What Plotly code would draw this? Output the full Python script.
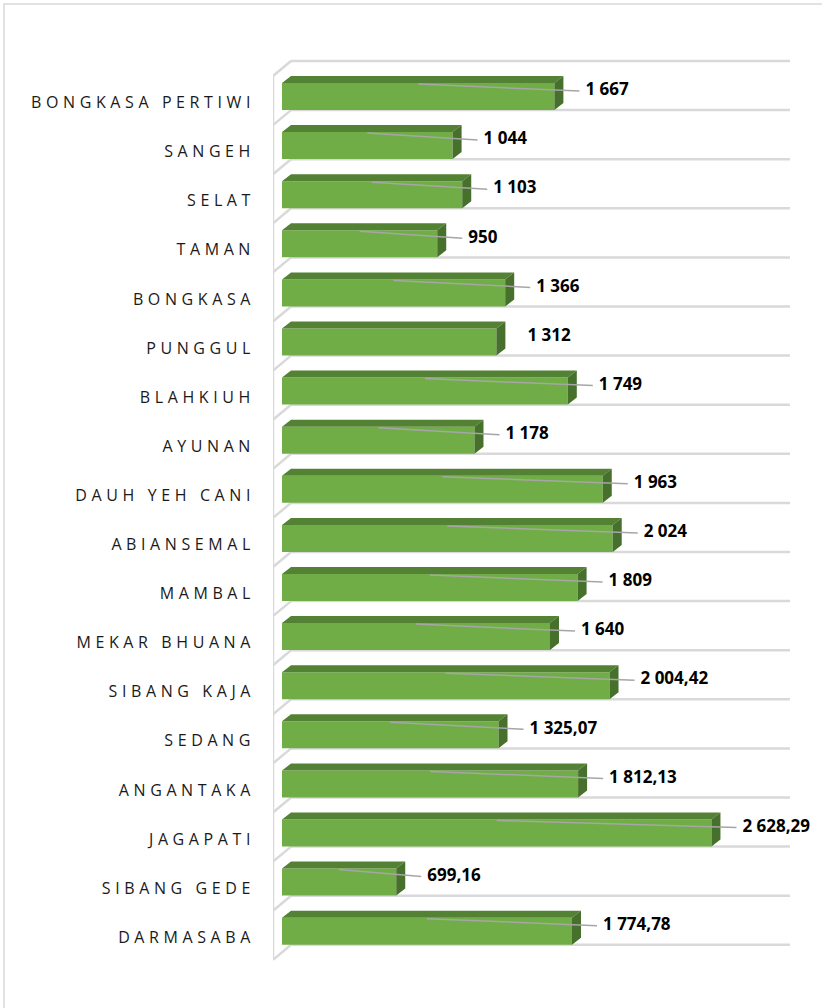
import plotly.graph_objects as go

villages = [
    "BONGKASA PERTIWI", "SANGEH", "SELAT", "TAMAN", "BONGKASA", "PUNGGUL",
    "BLAHKIUH", "AYUNAN", "DAUH YEH CANI", "ABIANSEMAL", "MAMBAL",
    "MEKAR BHUANA", "SIBANG KAJA", "SEDANG", "ANGANTAKA", "JAGAPATI",
    "SIBANG GEDE", "DARMASABA",
]
values = [
    1667, 1044, 1103, 950, 1366, 1312, 1749, 1178, 1963, 2024, 1809, 1640,
    2004.42, 1325.07, 1812.13, 2628.29, 699.16, 1774.78,
]

# ---- page geometry (pixels) ----
W, H = 822, 1008
ML, MR, MT, MB = 273, 30, 55, 43
X0 = 282            # pixel of value 0 on the front plane
PX_PER_UNIT = 0.1634
ROW = 49.1          # pixel height of one category row
ROW_TOP = 61        # pixel of first back gridline

FRONT = "#70ad47"
TOP = "#548235"
SIDE = "#46702b"
GRID = "#d9d9d9"


def xd(px):
    """pixel offset from value-0 -> data units"""
    return px / PX_PER_UNIT


def yd(px):
    """pixel -> category units"""
    return (px - ROW_TOP) / ROW


def fmt(v):
    s = f"{v:,.2f}".replace(",", " ").replace(".", ",")
    return s[:-3] if s.endswith(",00") else s


n = len(values)
DX = xd(9)
DY = 7 / ROW
face_top = 22 / ROW
face_bot = 49 / ROW

fig = go.Figure()

# front faces
fig.add_trace(go.Bar(
    x=values, y=[i + (face_top + face_bot) / 2 for i in range(n)],
    base=0, width=face_bot - face_top, orientation="h",
    marker=dict(color=FRONT, line=dict(width=0)),
    hoverinfo="skip", showlegend=False,
))

# top and side faces (3d look)
tx, ty, sx, sy = [], [], [], []
for i, v in enumerate(values):
    yt, yb = i + face_top, i + face_bot
    tx += [0, v, v + DX, DX, 0, None]
    ty += [yt, yt, yt - DY, yt - DY, yt, None]
    sx += [v, v + DX, v + DX, v, v, None]
    sy += [yt, yt - DY, yb - DY, yb, yt, None]
fig.add_trace(go.Scatter(x=tx, y=ty, fill="toself", fillcolor=TOP, mode="none",
                         hoverinfo="skip", showlegend=False))
fig.add_trace(go.Scatter(x=sx, y=sy, fill="toself", fillcolor=SIDE, mode="none",
                         hoverinfo="skip", showlegend=False))

# leader lines + value labels
LBL_DX = xd(31)
LBL_DY = 30 / ROW
lx, ly = [], []
for i, v in enumerate(values):
    if villages[i] == "PUNGGUL":
        continue
    lx += [v / 2, v + LBL_DX - xd(6), None]
    ly += [i + face_top + 1 / ROW, i + LBL_DY, None]
fig.add_trace(go.Scatter(x=lx, y=ly, mode="lines", line=dict(color="#a6a6a6", width=1.5),
                         hoverinfo="skip", showlegend=False))
fig.add_trace(go.Scatter(
    x=[v + LBL_DX for v in values], y=[i + LBL_DY for i in range(n)],
    mode="text", text=[fmt(v) for v in values], textposition="middle right",
    textfont=dict(family="Open Sans", size=17, color="#000000", weight="bold"),
    cliponaxis=False, hoverinfo="skip", showlegend=False,
))

# back-wall gridlines and left side wall
shapes = []
for k in range(n + 1):
    shapes.append(dict(type="line", xref="x", yref="y", x0=xd(9), x1=xd(790 - X0), y0=k, y1=k,
                       line=dict(color=GRID, width=2.5), layer="below"))
    shapes.append(dict(type="line", xref="x", yref="y", x0=xd(-9), x1=xd(9),
                       y0=k + 15 / ROW, y1=k, line=dict(color=GRID, width=2.5), layer="below"))
shapes.append(dict(type="line", xref="x", yref="y", x0=xd(-9), x1=xd(-9),
                   y0=15 / ROW, y1=n + 15 / ROW, line=dict(color=GRID, width=2.5), layer="below"))
# chart border
pw, ph = W - ML - MR, H - MT - MB
shapes.append(dict(type="rect", xref="paper", yref="paper",
                   x0=(4 - ML) / pw, x1=(W + 10 - ML) / pw,
                   y0=(H - MB - (H + 10)) / ph, y1=(H - MB - 4) / ph,
                   line=dict(color=GRID, width=1.5), fillcolor="rgba(0,0,0,0)", layer="below"))

fig.update_layout(
    width=W, height=H,
    margin=dict(l=ML, r=MR, t=MT, b=MB),
    paper_bgcolor="white", plot_bgcolor="white",
    shapes=shapes,
    showlegend=False,
    xaxis=dict(range=[xd(ML - X0), xd(W - MR - X0)], showgrid=False, zeroline=False,
               showticklabels=False, showline=False, fixedrange=True),
    yaxis=dict(range=[yd(H - MB), yd(MT)], showgrid=False, zeroline=False, showline=False,
               tickmode="array", tickvals=[i + 41.5 / ROW for i in range(n)], ticktext=villages,
               tickfont=dict(family="Open Sans", size=16, color="#1a1a1a"),
               ticks="", ticklabelstandoff=17, automargin=False, fixedrange=True),
)

js = ("document.body.style.margin='0';"
      "document.querySelectorAll('.ytick text').forEach(function(t){t.style.letterSpacing='4.6px';});")
fig.write_html("out.html", post_script=js, config={"displayModeBar": False})
